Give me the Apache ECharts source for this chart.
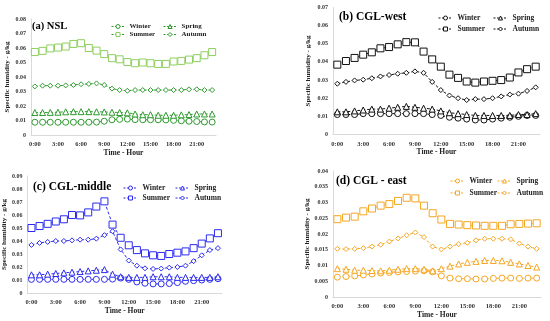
<!DOCTYPE html>
<html><head><meta charset="utf-8">
<script src="https://cdn.jsdelivr.net/npm/echarts@6/dist/echarts.min.js"></script>
<style>html,body{margin:0;padding:0;background:#fff}#c{width:550px;height:321px}</style>
</head><body><div id="c"></div>
<script>
var hours = ["0:00","1:00","2:00","3:00","4:00","5:00","6:00","7:00","8:00","9:00","10:00","11:00","12:00","13:00","14:00","15:00","16:00","17:00","18:00","19:00","20:00","21:00","22:00","23:00"];
var seasons = ["Winter","Spring","Summer","Autumn"];

// (a) NSL
var nslWinter = [0.0088,0.0088,0.0088,0.0088,0.0088,0.0088,0.0088,0.0088,0.0089,0.0095,0.0105,0.0108,0.011,0.0106,0.0105,0.0105,0.0105,0.0104,0.0101,0.0098,0.0095,0.0093,0.0090,0.0089];
var nslSpring = [0.0155,0.0155,0.0156,0.0157,0.0160,0.0161,0.0161,0.0161,0.0160,0.0159,0.0157,0.0155,0.0153,0.0145,0.0140,0.0140,0.0136,0.0136,0.0136,0.0139,0.0141,0.0145,0.0145,0.0145];
var nslSummer = [0.0572,0.058,0.0597,0.0603,0.061,0.0628,0.0633,0.060,0.0582,0.0558,0.053,0.0522,0.0503,0.0495,0.050,0.0495,0.049,0.049,0.0507,0.0511,0.052,0.053,0.055,0.0572];
var nslAutumn = [0.0335,0.034,0.034,0.034,0.0342,0.0345,0.035,0.0352,0.0356,0.0345,0.032,0.031,0.0305,0.031,0.031,0.031,0.031,0.031,0.031,0.031,0.0315,0.0315,0.031,0.031];

// (b) CGL-west
var westWinter = [0.011,0.011,0.011,0.0115,0.0115,0.0115,0.0115,0.0115,0.0115,0.0115,0.0115,0.011,0.0105,0.0095,0.009,0.0085,0.008,0.008,0.0085,0.009,0.0095,0.010,0.0105,0.0105];
var westSpring = [0.0125,0.0125,0.013,0.0135,0.014,0.014,0.0145,0.015,0.0155,0.015,0.0145,0.014,0.013,0.012,0.0115,0.011,0.0105,0.0105,0.0105,0.0105,0.0105,0.011,0.011,0.0115];
var westSummer = [0.0385,0.0405,0.0422,0.044,0.0453,0.0475,0.0482,0.0497,0.0509,0.0508,0.0457,0.0414,0.0374,0.033,0.0312,0.0292,0.0286,0.0292,0.0296,0.030,0.0314,0.0342,0.036,0.0374];
var westAutumn = [0.028,0.029,0.0298,0.0302,0.031,0.032,0.0328,0.0335,0.034,0.0348,0.034,0.029,0.0245,0.0215,0.020,0.019,0.0195,0.0195,0.020,0.021,0.022,0.0225,0.024,0.026];

// (c) CGL-middle
var midWinter = [0.0105,0.0105,0.0105,0.0105,0.0105,0.0105,0.0105,0.0105,0.0105,0.0105,0.0107,0.0115,0.0105,0.0085,0.0075,0.007,0.007,0.0073,0.008,0.009,0.0095,0.010,0.0105,0.011];
var midSpring = [0.014,0.014,0.0145,0.015,0.0155,0.016,0.0165,0.017,0.0175,0.018,0.0145,0.0125,0.012,0.012,0.012,0.0125,0.0125,0.0125,0.012,0.012,0.012,0.012,0.012,0.0125];
var midSummer = [0.050,0.0515,0.0532,0.055,0.0567,0.060,0.0597,0.062,0.0665,0.0705,0.0526,0.0425,0.0367,0.033,0.0305,0.029,0.0285,0.030,0.031,0.032,0.0345,0.038,0.042,0.046];
var midAutumn = [0.037,0.0385,0.0393,0.040,0.040,0.0405,0.041,0.041,0.0418,0.0445,0.0475,0.0335,0.025,0.021,0.019,0.0185,0.0188,0.0195,0.020,0.021,0.0245,0.029,0.033,0.0345];

// (d) CGL - east
var eastWinter = [0.0063,0.0065,0.0067,0.007,0.0073,0.0076,0.0078,0.008,0.0081,0.0082,0.0083,0.008,0.0067,0.006,0.0058,0.0058,0.0057,0.0057,0.0059,0.006,0.006,0.0059,0.006,0.006];
var eastSpring = [0.009,0.0088,0.0085,0.0085,0.0084,0.0083,0.0085,0.0088,0.009,0.009,0.0088,0.0083,0.009,0.0098,0.0105,0.011,0.0113,0.0116,0.0116,0.0115,0.011,0.0105,0.010,0.0095];
var eastSummer = [0.0247,0.0252,0.0255,0.0272,0.0281,0.029,0.0295,0.0305,0.0315,0.0313,0.029,0.0266,0.0246,0.0232,0.023,0.0228,0.0227,0.0226,0.0226,0.0226,0.0231,0.0232,0.0233,0.0234];
var eastAutumn = [0.0153,0.0152,0.0153,0.0155,0.016,0.0166,0.0176,0.0186,0.0196,0.0205,0.019,0.016,0.0151,0.016,0.0168,0.0172,0.018,0.0185,0.0185,0.0185,0.0183,0.017,0.016,0.0153];

var panelTitles = ["(a) NSL","(b) CGL-west","(c) CGL-middle","(d) CGL - east"];
var yMax = [0.08, 0.07, 0.09, 0.04];
var yStep = [0.01, 0.01, 0.01, 0.005];

var panelData = [
  [nslWinter, nslSpring, nslSummer, nslAutumn],
  [westWinter, westSpring, westSummer, westAutumn],
  [midWinter, midSpring, midSummer, midAutumn],
  [eastWinter, eastSpring, eastSummer, eastAutumn]
];

var FONT = "Liberation Serif";
var lineColors = ["#2e9a2e", "#111111", "#2b2bf0", "#f5a623"];
var symColors = [["#2e9a2e","#2e9a2e","#8fcf5f","#2e9a2e"], null, null, null];
var symbols = ["circle","triangle","rect","diamond"];
var symSizes = [6,6,7,5];

var grids = [
  {left:31, top:19, width:185, height:116},
  {left:333, top:7.5, width:207, height:127},
  {left:27, top:176, width:195, height:117},
  {left:333, top:171, width:208, height:126}
];
var titlePos = [[32,21,10.5],[339,11,11.5],[33,181,11.5],[336,175,11.5]];
var legendPos = [
  {x1:111, x2:163, y1:23, y2:31, fs:7, iw:13},
  {x1:438, x2:493, y1:14, y2:25, fs:7.5, iw:14},
  {x1:123, x2:175, y1:184, y2:194, fs:7.5, iw:14},
  {x1:450, x2:497, y1:177, y2:189, fs:7.5, iw:14}
];
var yNameGap = [20, 21, 18, 21];
var xNameGap = [12, 13, 11, 13];

function fmtY(v){ if (v === 0) return "0"; return String(parseFloat(v.toFixed(3))); }

var option = {animation:false, grid:[], xAxis:[], yAxis:[], series:[], legend:[], title:[]};
for (var p = 0; p < 4; p++) {
  option.grid.push(grids[p]);
  option.title.push({text:panelTitles[p], left:titlePos[p][0], top:titlePos[p][1], padding:0,
    textStyle:{fontFamily:FONT, fontWeight:"bold", fontSize:titlePos[p][2], color:"#000"}});
  option.xAxis.push({type:"category", gridIndex:p, data:hours, boundaryGap:true,
    name:"Time - Hour", nameLocation:"middle", nameGap:xNameGap[p],
    nameTextStyle:{fontFamily:FONT, fontWeight:"bold", fontSize:7.5, color:"#222"},
    axisLine:{lineStyle:{color:"#d9d9d9", width:1}}, axisTick:{show:false},
    axisLabel:{interval:2, fontFamily:FONT, fontWeight:"bold", fontSize:6.5, color:"#333", margin:6},
    splitLine:{show:false}});
  option.yAxis.push({type:"value", gridIndex:p, min:0, max:yMax[p], interval:yStep[p],
    name:"Specific humidity - g/kg", nameLocation:"middle", nameGap:yNameGap[p], nameRotate:90,
    nameTextStyle:{fontFamily:FONT, fontWeight:"bold", fontSize:7, color:"#222"},
    axisLine:{show:true, lineStyle:{color:"#d9d9d9", width:1}}, axisTick:{show:false},
    axisLabel:{formatter:fmtY, fontFamily:FONT, fontWeight:"bold", fontSize:6, color:"#333", margin:5},
    splitLine:{show:false}});
  for (var s = 0; s < 4; s++) {
    var nm = "p" + p + "_" + seasons[s];
    var sc = symColors[p] ? symColors[p][s] : lineColors[p];
    option.series.push({name:nm, type:"line", xAxisIndex:p, yAxisIndex:p, data:panelData[p][s],
      symbol:symbols[s], symbolSize:symSizes[s], showSymbol:true, showAllSymbol:true,
      lineStyle:{color:lineColors[p], width:1, type:[3,2]},
      itemStyle:{color:"#fff", borderColor:sc, borderWidth:1},
      color:lineColors[p]});
    var lp = legendPos[p];
    option.legend.push({data:[nm], left:(s%2===0?lp.x1:lp.x2), top:(s<2?lp.y1:lp.y2),
      padding:0, itemWidth:lp.iw, itemHeight:5, itemGap:2,
      lineStyle:{type:[2,1.5], width:1, color:lineColors[p]},
      itemStyle:{color:"#fff", borderColor:sc, borderWidth:1},
      formatter:function(n){return n.split("_")[1];},
      textStyle:{fontFamily:FONT, fontWeight:"bold", fontSize:lp.fs, color:"#222"}});
  }
}
var chart = echarts.init(document.getElementById("c"), null, {renderer:"canvas"});
chart.setOption(option);
</script></body></html>
